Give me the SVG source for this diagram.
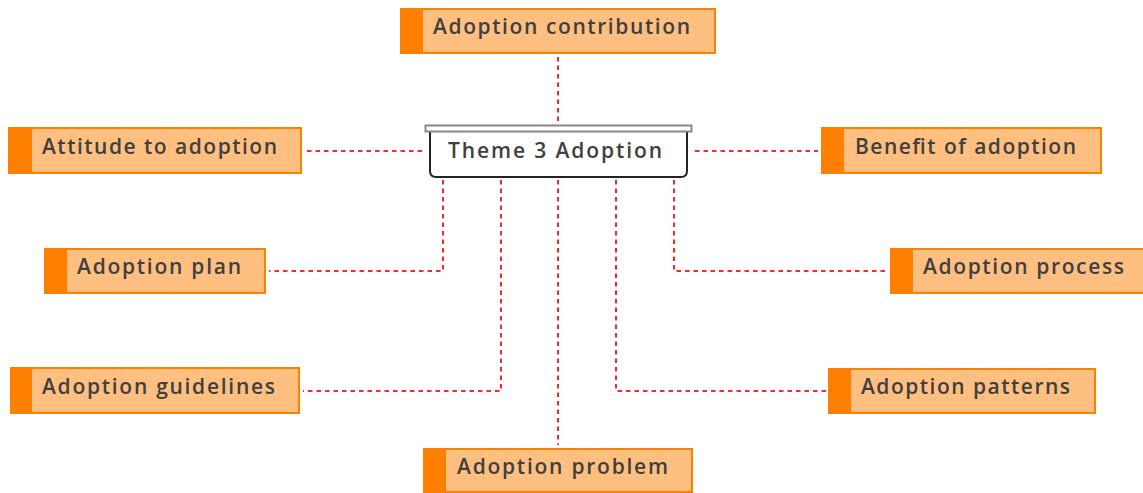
<svg xmlns="http://www.w3.org/2000/svg" width="1143" height="493" viewBox="0 0 1143 493">
  <style>
    .box { fill: #ffbf80; stroke: #ff8000; stroke-width: 2; }
    .bar { fill: #ff7f00; }
    .label { font-family: "Open Sans", "Noto Sans", sans-serif; font-size: 21px; font-weight: 600; fill: #404040; }
    .link { fill: none; stroke: #f52a2a; stroke-width: 2; stroke-dasharray: 4.5 4; }
  </style>
  <rect width="1143" height="493" fill="#ffffff"/>

  <!-- dotted connectors from the central theme -->
  <g id="connectors">
    <path class="link" d="M558 57 V122"/>
    <path class="link" d="M307 151 H422"/>
    <path class="link" d="M695 151 H818"/>
    <path class="link" d="M443 180 V271 H269"/>
    <path class="link" d="M501 180 V391 H303"/>
    <path class="link" d="M558 180 V445"/>
    <path class="link" d="M616 180 V391 H826"/>
    <path class="link" d="M674 180 V271 H888"/>
  </g>

  <!-- central theme -->
  <g id="theme">
    <path d="M430 132 V171 Q430 177 436 177 H681 Q687 177 687 171 V132" fill="#ffffff" stroke="#222222" stroke-width="2"/>
    <rect x="425.5" y="125.5" width="266" height="6" fill="#ffffff" stroke="#888888" stroke-width="2"/>
    <text class="label" x="448" y="158" textLength="214">Theme 3 Adoption</text>
  </g>

  <g id="contribution">
    <rect class="box" x="401" y="9" width="314" height="44"/>
    <rect class="bar" x="400" y="8" width="23" height="46"/>
    <text class="label" x="433" y="34" textLength="257">Adoption contribution</text>
  </g>

  <g id="attitude">
    <rect class="box" x="9" y="128" width="292" height="45"/>
    <rect class="bar" x="8" y="127" width="24" height="47"/>
    <text class="label" x="42" y="154" textLength="235">Attitude to adoption</text>
  </g>

  <g id="benefit">
    <rect class="box" x="822" y="128" width="279" height="45"/>
    <rect class="bar" x="821" y="127" width="23" height="47"/>
    <text class="label" x="855" y="154" textLength="221">Benefit of adoption</text>
  </g>

  <g id="plan">
    <rect class="box" x="45" y="249" width="220" height="44"/>
    <rect class="bar" x="44" y="248" width="23" height="46"/>
    <text class="label" x="77" y="274" textLength="164">Adoption plan</text>
  </g>

  <g id="process">
    <rect class="box" x="891" y="249" width="254" height="44"/>
    <rect class="bar" x="890" y="248" width="23" height="46"/>
    <text class="label" x="923" y="274" textLength="201">Adoption process</text>
  </g>

  <g id="guidelines">
    <rect class="box" x="11" y="368" width="288" height="45"/>
    <rect class="bar" x="10" y="367" width="22" height="47"/>
    <text class="label" x="42" y="394" textLength="233">Adoption guidelines</text>
  </g>

  <g id="patterns">
    <rect class="box" x="829" y="369" width="266" height="44"/>
    <rect class="bar" x="828" y="368" width="23" height="46"/>
    <text class="label" x="861" y="394" textLength="209">Adoption patterns</text>
  </g>

  <g id="problem">
    <rect class="box" x="424" y="449" width="268" height="43"/>
    <rect class="bar" x="423" y="448" width="23" height="45"/>
    <text class="label" x="457" y="474" textLength="211">Adoption problem</text>
  </g>
</svg>
